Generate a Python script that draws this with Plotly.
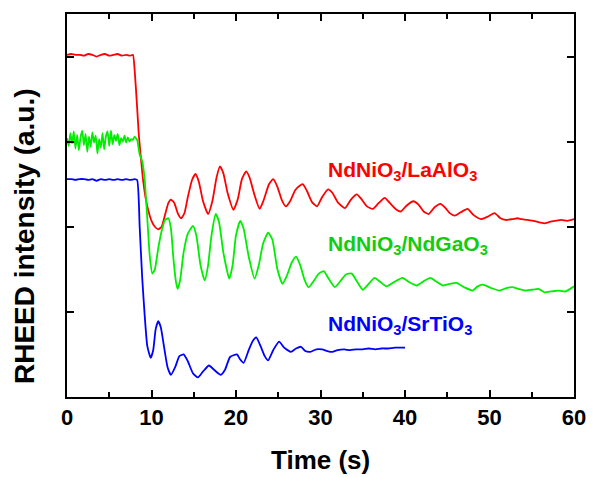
import plotly.graph_objects as go

# ---------------- data (time in s, intensity in a.u.) ----------------
t_laalo = [0, 0.5, 1, 1.5, 2, 2.5, 3, 3.5, 4, 4.5, 5, 5.5, 6, 6.5, 7, 7.5, 7.8,
           8.0, 8.3, 8.5, 8.8, 9.0, 9.3, 9.6, 10.0, 10.4, 10.8, 11.2, 11.6, 12.0, 12.3,
           12.7, 13.1, 13.5, 13.9, 14.3, 14.8, 15.2, 15.6, 16.1, 16.7, 17.2, 17.7, 18.1,
           18.5, 19.0, 19.7, 20.2, 20.7, 21.2, 21.6, 22.2, 22.8, 23.3, 23.9, 24.4, 24.9,
           25.4, 25.9, 26.4, 27.0, 27.5, 27.9, 28.4, 29.0, 29.6, 30.2, 30.9, 31.4, 32.1,
           32.9, 33.6, 34.3, 34.8, 35.5, 36.2, 36.9, 37.6, 38.2, 39.0, 39.5, 40.2, 41.0,
           41.6, 42.2, 42.8, 43.5, 44.2, 44.8, 45.3, 45.9, 46.6, 47.4, 48.1, 49.0, 49.8,
           50.6, 51.3, 51.9, 52.7, 53.3, 53.8, 54.5, 55.2, 56.0, 56.5, 57.2, 57.8, 58.5,
           59.2, 60.0]
i_laalo = [4.02, 4.03, 4.02, 4.02, 4.01, 4.03, 4.02, 4.00, 4.02, 4.03, 4.01, 4.02, 4.03,
           4.01, 4.02, 4.01, 4.02,
           3.85, 3.40, 3.08, 2.75, 2.55, 2.34, 2.20, 2.07, 2.00, 1.97, 2.00, 2.14, 2.28, 2.32,
           2.28, 2.16, 2.10, 2.16, 2.35, 2.55, 2.62, 2.53, 2.30, 2.15, 2.30, 2.58, 2.71,
           2.63, 2.40, 2.20, 2.32, 2.56, 2.65, 2.58, 2.37, 2.21, 2.32, 2.50, 2.56, 2.47,
           2.32, 2.24, 2.30, 2.43, 2.48, 2.50, 2.42, 2.29, 2.24, 2.35, 2.44, 2.40, 2.28,
           2.22, 2.32, 2.38, 2.33, 2.24, 2.21, 2.28, 2.34, 2.28, 2.20, 2.18, 2.25, 2.30,
           2.26, 2.18, 2.15, 2.23, 2.27, 2.22, 2.16, 2.13, 2.17, 2.21, 2.14, 2.09, 2.12,
           2.16, 2.10, 2.08, 2.09, 2.10, 2.09, 2.08, 2.07, 2.05, 2.04, 2.06, 2.07, 2.08,
           2.07, 2.09]

t_ndgao = [0.0, 0.2, 0.4, 0.6, 0.8, 1.0, 1.2, 1.4, 1.6, 1.8, 2.0, 2.2, 2.4, 2.6, 2.8, 3.0,
           3.2, 3.4, 3.6, 3.8, 4.0, 4.2, 4.4, 4.6, 4.8, 5.0, 5.2, 5.4, 5.6, 5.8, 6.0, 6.2,
           6.4, 6.6, 6.8, 7.0, 7.2, 7.4, 7.6, 7.8, 8.0, 8.3,
           8.6, 8.9, 9.2, 9.5, 9.8, 10.1, 10.4, 10.8, 11.2, 11.6, 12.0, 12.3, 12.6, 12.9,
           13.1, 13.4, 13.8, 14.3, 14.9, 15.3, 15.8, 16.3, 16.7, 17.1, 17.6, 18.0, 18.5,
           19.2, 19.6, 20.0, 20.5, 20.9, 21.5, 22.2, 22.7, 23.2, 23.8, 24.3, 24.9, 25.5,
           26.0, 26.6, 27.1, 27.6, 28.1, 28.6, 29.1, 29.8, 30.4, 30.9, 31.7, 32.5, 33.0,
           33.7, 34.3, 35.0, 35.7, 36.4, 37.1, 37.8, 38.7, 39.7, 40.5, 41.4, 42.2, 43.0,
           43.8, 44.5, 45.3, 46.1, 47.0, 48.0, 48.6, 49.2, 50.2, 51.2, 52.0, 52.7, 53.4,
           54.2, 55.0, 55.8, 56.5, 57.3, 58.1, 59.0, 60.0]
i_ndgao = [3.04, 2.95, 3.10, 2.98, 3.12, 2.92, 3.08, 2.90, 3.05, 3.13, 2.96, 3.09, 2.88,
           3.06, 2.94, 3.11, 2.99, 3.07, 2.86, 3.03, 2.93, 3.10, 2.91, 3.06, 3.12, 2.95,
           3.13, 2.97, 3.08, 3.01, 3.09, 2.96, 3.04, 3.00, 3.07, 2.99, 3.05, 3.00, 3.03,
           3.02, 3.06, 3.02,
           2.85, 2.77, 2.55, 2.10, 1.65, 1.45, 1.50, 1.75, 1.95, 2.08, 2.10, 1.98, 1.62,
           1.35, 1.27, 1.38, 1.70, 1.92, 2.01, 1.90, 1.55, 1.37, 1.55, 1.90, 2.15, 2.05,
           1.70, 1.39, 1.55, 1.90, 2.07, 1.98, 1.65, 1.39, 1.55, 1.80, 1.93, 1.85, 1.50,
           1.33, 1.42, 1.58, 1.65, 1.55, 1.38, 1.29, 1.35, 1.45, 1.48, 1.40, 1.29, 1.38,
           1.44, 1.45, 1.36, 1.26, 1.33, 1.40, 1.35, 1.30, 1.35, 1.40, 1.35, 1.31, 1.36,
           1.40, 1.35, 1.31, 1.33, 1.34, 1.29, 1.25, 1.30, 1.32, 1.28, 1.25, 1.28, 1.29,
           1.27, 1.25, 1.26, 1.27, 1.23, 1.24, 1.25, 1.24, 1.30]

t_srtio = [0, 0.5, 1, 1.5, 2, 2.5, 3, 3.5, 4, 4.5, 5, 5.5, 6, 6.5, 7, 7.5, 8.0, 8.3,
           8.6, 8.9, 9.2, 9.5, 9.9, 10.2, 10.5, 10.8, 11.1, 11.5, 11.9, 12.3, 12.8, 13.3,
           13.8, 14.3, 14.9, 15.5, 16.1, 16.8, 17.4, 18.2, 18.7, 19.3, 20.1, 20.5, 20.9,
           21.5, 22.0, 22.4, 22.9, 23.4, 23.8, 24.4, 25.1, 25.7, 26.5, 27.1, 27.7, 28.2,
           28.8, 29.5, 30.2, 30.8, 31.4, 32.0, 32.8, 33.5, 34.2, 35.0, 35.7, 36.5, 37.2,
           38.0, 38.8, 39.5, 40.0]
i_srtio = [2.56, 2.56, 2.55, 2.56, 2.56, 2.55, 2.56, 2.54, 2.56, 2.55, 2.56, 2.55, 2.56,
           2.55, 2.56, 2.55, 2.56, 2.55,
           2.00, 1.40, 0.95, 0.60, 0.46, 0.55, 0.80, 0.89, 0.82, 0.58, 0.35, 0.26, 0.35,
           0.48, 0.50, 0.42, 0.28, 0.23, 0.30, 0.37, 0.32, 0.26, 0.32, 0.47, 0.50, 0.44,
           0.40, 0.55, 0.66, 0.70, 0.60, 0.48, 0.43, 0.55, 0.65, 0.58, 0.53, 0.57, 0.59,
           0.54, 0.53, 0.56, 0.56, 0.54, 0.53, 0.55, 0.56, 0.55, 0.56, 0.56, 0.57, 0.56,
           0.57, 0.57, 0.58, 0.58, 0.58]

series_names = ["NdNiO<sub>3</sub>/LaAlO<sub>3</sub>",
                "NdNiO<sub>3</sub>/NdGaO<sub>3</sub>",
                "NdNiO<sub>3</sub>/SrTiO<sub>3</sub>"]
line_colors = ["#ff0000", "#00ee00", "#0000ff"]
label_colors = ["#ff0000", "#11cc11", "#0000ff"]
label_x = [30.6, 30.6, 30.6]
label_y = [2.65, 1.79, 0.85]

x_ticks = [0, 10, 20, 30, 40, 50, 60]
y_ticks = [1, 2, 3, 4]

FONT = "Liberation Sans, Arial, sans-serif"

fig = go.Figure()
for t, i, c in zip([t_laalo, t_ndgao, t_srtio], [i_laalo, i_ndgao, i_srtio], line_colors):
    fig.add_trace(go.Scatter(x=t, y=i, mode="lines",
                             line=dict(color=c, width=1.8, shape="spline", smoothing=0.5),
                             showlegend=False, hoverinfo="skip"))

for name, c, lx, ly in zip(series_names, label_colors, label_x, label_y):
    fig.add_annotation(x=lx, y=ly, xref="x", yref="y", text=name, showarrow=False,
                       xanchor="left", yanchor="middle",
                       font=dict(family=FONT, size=21, color=c, weight="bold"))

fig.add_annotation(x=0.5, y=-0.165, xref="paper", yref="paper", text="Time (s)",
                   showarrow=False, xanchor="center", yanchor="middle",
                   font=dict(family=FONT, size=26, color="black", weight="bold"))
fig.add_annotation(x=-0.085, y=0.42, xref="paper", yref="paper",
                   text="RHEED intensity (a.u.)", textangle=-90,
                   showarrow=False, xanchor="center", yanchor="middle",
                   font=dict(family=FONT, size=28, color="black", weight="bold"))

fig.update_layout(
    width=598, height=477,
    margin=dict(l=67, r=15, t=12, b=80),
    paper_bgcolor="white", plot_bgcolor="white",
    font=dict(family=FONT, color="black"),
)
fig.update_xaxes(range=[0, 60], tickvals=x_ticks, ticks="inside", ticklen=7, tickwidth=2,
                 tickcolor="black", showline=True, linewidth=2, linecolor="black",
                 mirror="ticks", showgrid=False, zeroline=False,
                 tickfont=dict(family=FONT, size=22, color="black", weight="bold"),
                 minor=dict(dtick=5, ticks="inside", ticklen=5, tickwidth=2, tickcolor="black"))
fig.update_yaxes(range=[0, 4.5], tickvals=y_ticks, ticks="inside", ticklen=7, tickwidth=2,
                 tickcolor="black", showline=True, linewidth=2, linecolor="black",
                 mirror="ticks", showgrid=False, zeroline=False, showticklabels=False)

fig.write_html("out.html")
